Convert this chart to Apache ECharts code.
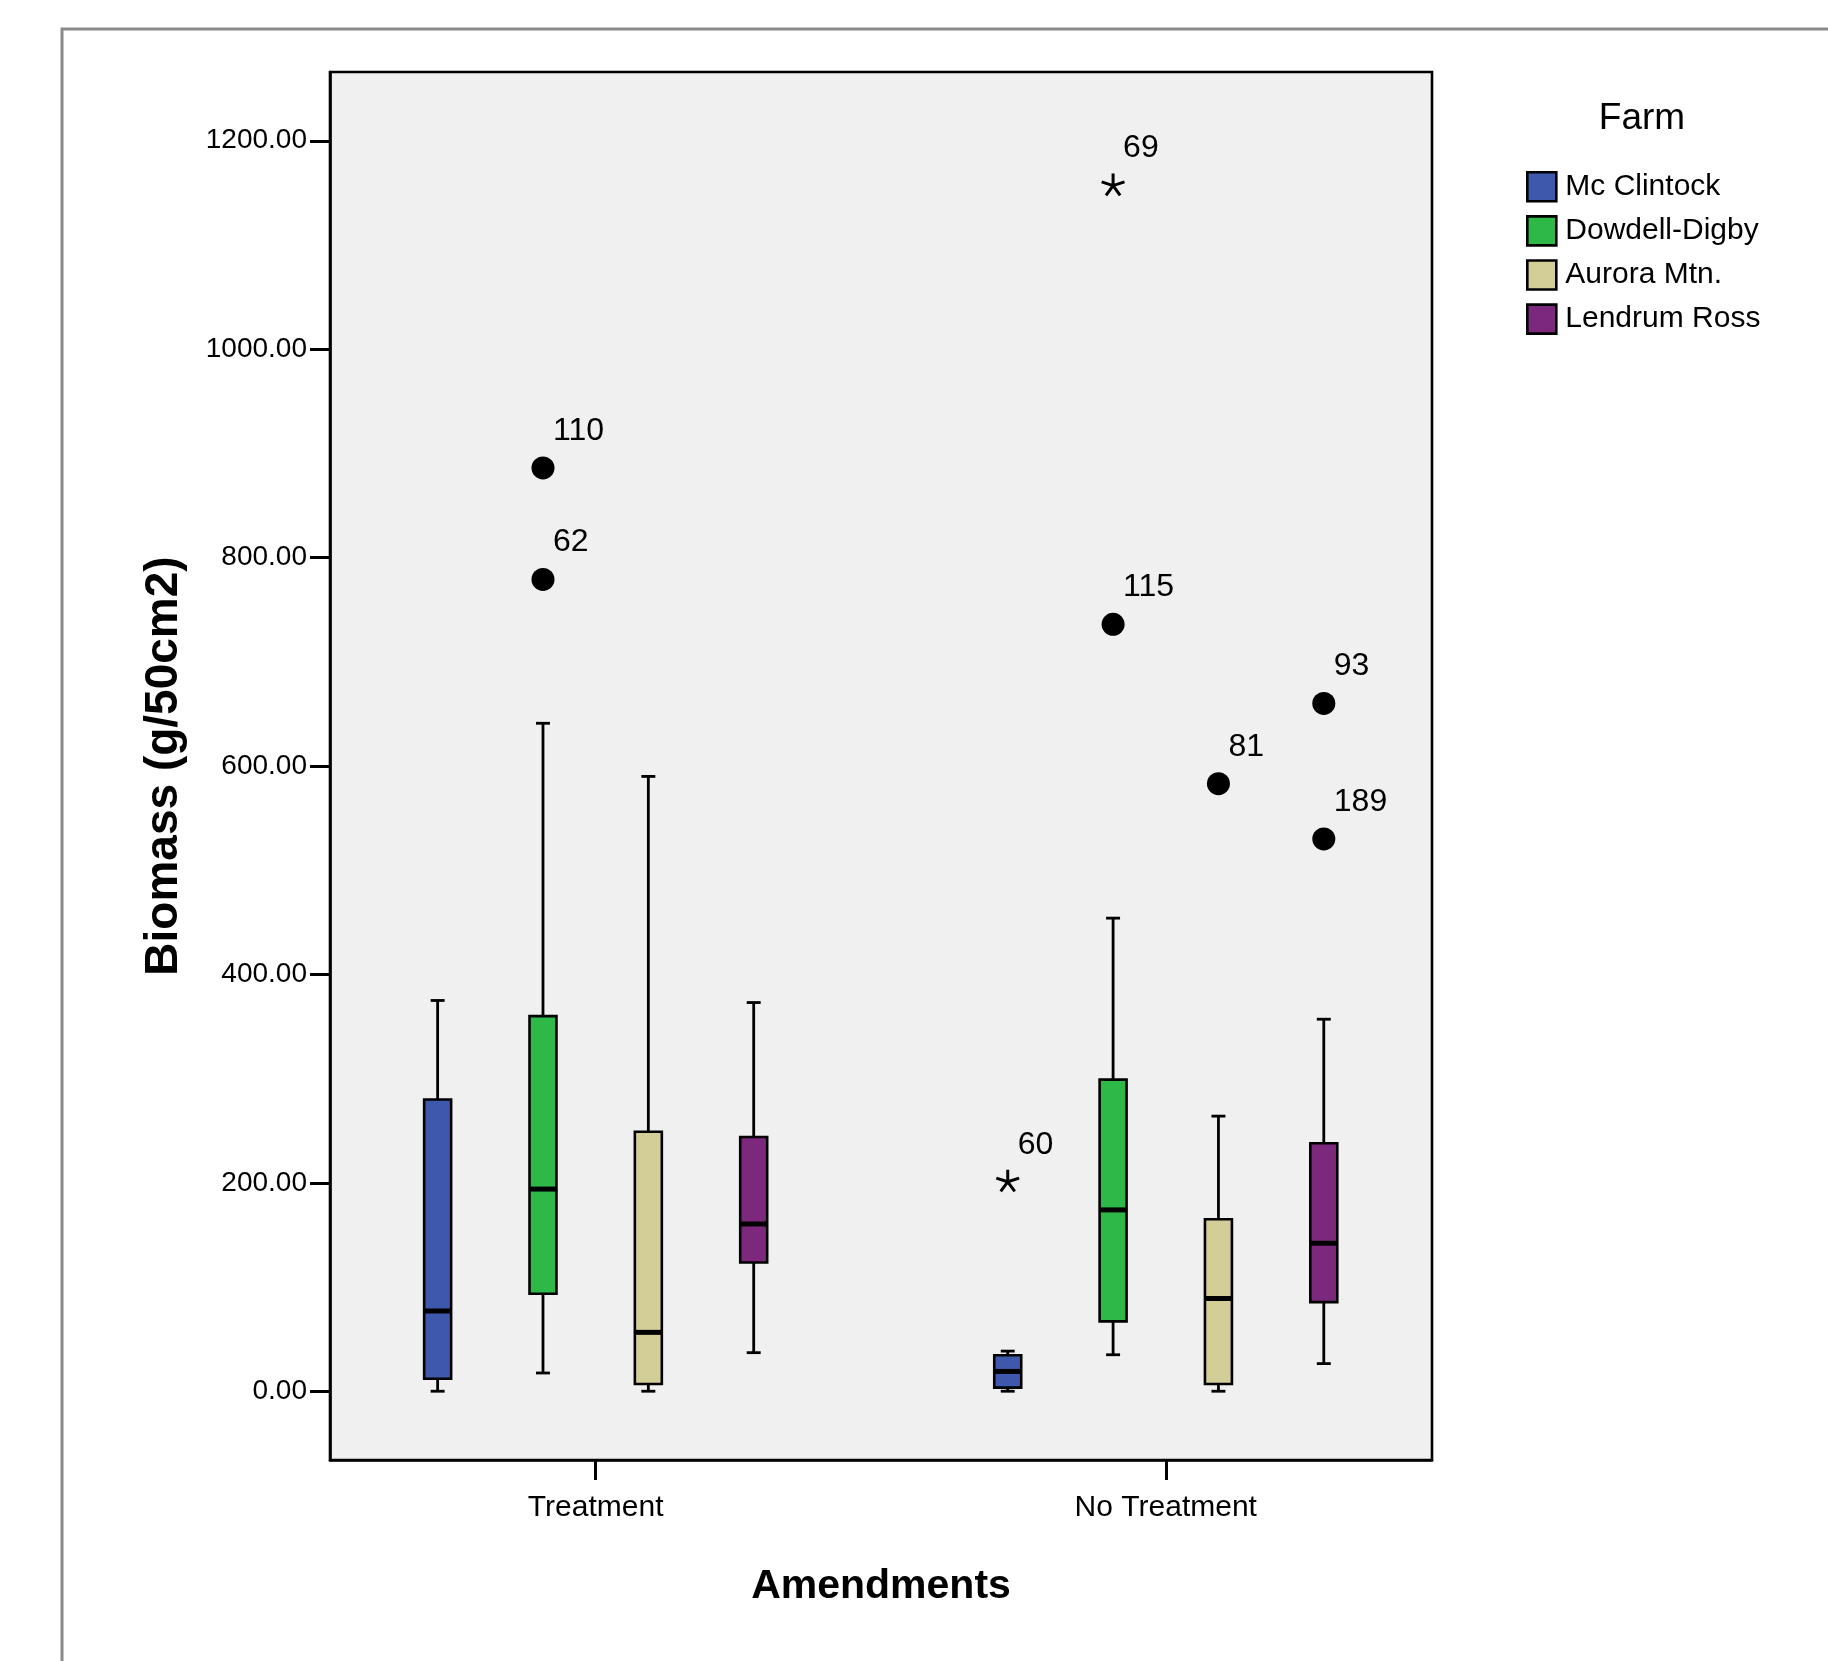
<!DOCTYPE html>
<html>
<head>
<meta charset="utf-8">
<script src="https://cdn.jsdelivr.net/npm/echarts@6/dist/echarts.min.js"></script>
<style>
html,body{margin:0;padding:0;background:#fff;}
#chart{width:1828px;height:1661px;}
</style>
</head>
<body>
<div id="chart"></div>
<script>
// ---------------- data ----------------
const categories = ['Treatment', 'No Treatment'];
const farms = ['Mc Clintock', 'Dowdell-Digby', 'Aurora Mtn.', 'Lendrum Ross'];
const farmColors = ['#3E58AC', '#2EB848', '#D3CE97', '#7C287D'];
// per farm: one [min, Q1, median, Q3, max] per category
const mcClintock   = [[0, 12, 77, 280, 375],    [0, 3.5, 19, 34.5, 38.5]];
const dowdellDigby = [[17.5, 93.5, 194, 360, 641], [35, 67, 174, 299, 454]];
const auroraMtn    = [[0, 7, 56.5, 249, 590],   [0, 7, 89, 165, 264]];
const lendrumRoss  = [[37, 123.5, 160.5, 244, 373], [26.5, 85.5, 142, 238, 357]];
const farmStats = [mcClintock, dowdellDigby, auroraMtn, lendrumRoss];
// outliers: [category index, farm index, value, case label, kind (0 circle, 1 extreme star)]
const outliers = [
  [0, 1, 886, '110', 0],
  [0, 1, 779, '62', 0],
  [1, 0, 201, '60', 1],
  [1, 1, 1157, '69', 1],
  [1, 1, 736, '115', 0],
  [1, 2, 583, '81', 0],
  [1, 3, 660, '93', 0],
  [1, 3, 530, '189', 0]
];
const yTicks = [0, 200, 400, 600, 800, 1000, 1200];

// ---------------- layout constants ----------------
const SPACING = 0.1848;   // distance between boxes, in category units
const BOX_W = 0.0473;     // box width, in category units
const CAP_W = 0.0245;     // whisker cap width
const SANS = "'Liberation Sans', Arial, sans-serif";

function boxRenderer(farmIdx) {
  return function (params, api) {
    const g = api.value(0);
    const unit = api.size([1, 0])[0];
    const base = api.coord([g, 0]);
    const cx = base[0] + (farmIdx - 1.5) * SPACING * unit;
    const hw = BOX_W * unit / 2;
    const cw = CAP_W * unit / 2;
    const y = [1, 2, 3, 4, 5].map(i => api.coord([g, api.value(i)])[1]);
    const ls = { stroke: '#000', lineWidth: 2.8 };
    return {
      type: 'group',
      children: [
        { type: 'line', shape: { x1: cx, y1: y[0], x2: cx, y2: y[1] }, style: ls },
        { type: 'line', shape: { x1: cx, y1: y[3], x2: cx, y2: y[4] }, style: ls },
        { type: 'line', shape: { x1: cx - cw, y1: y[0], x2: cx + cw, y2: y[0] }, style: ls },
        { type: 'line', shape: { x1: cx - cw, y1: y[4], x2: cx + cw, y2: y[4] }, style: ls },
        { type: 'rect', shape: { x: cx - hw, y: y[3], width: 2 * hw, height: y[1] - y[3] },
          style: { fill: farmColors[farmIdx], stroke: '#000', lineWidth: 2.6 } },
        { type: 'line', shape: { x1: cx - hw, y1: y[2], x2: cx + hw, y2: y[2] },
          style: { stroke: '#000', lineWidth: 5 } }
      ]
    };
  };
}

function outlierRenderer(params, api) {
  const g = api.value(0);
  const farmIdx = api.value(1);
  const unit = api.size([1, 0])[0];
  const pt = api.coord([g, api.value(2)]);
  const cx = pt[0] + (farmIdx - 1.5) * SPACING * unit;
  const cy = pt[1];
  const kind = api.value(4);
  const label = outliers[params.dataIndex][3];
  let marker;
  if (kind === 0) {
    marker = { type: 'circle', shape: { cx: cx, cy: cy, r: 11.5 }, style: { fill: '#000' } };
  } else {
    const L = 12;
    let d = '';
    [-90, -18, 54, 126, 198].forEach(a => {
      const r = a * Math.PI / 180;
      d += 'M' + cx + ' ' + cy + 'L' + (cx + L * Math.cos(r)) + ' ' + (cy + L * Math.sin(r));
    });
    marker = { type: 'path', shape: { pathData: d }, style: { stroke: '#000', lineWidth: 3, fill: null } };
  }
  return {
    type: 'group',
    children: [
      marker,
      { type: 'text', x: cx + 10, y: cy - 37,
        style: { text: label, font: '32px ' + SANS, fill: '#000', align: 'left', verticalAlign: 'middle' } }
    ]
  };
}

const series = farms.map((name, fi) => ({
  name: name,
  type: 'custom',
  renderItem: boxRenderer(fi),
  itemStyle: { color: farmColors[fi], borderColor: '#000', borderWidth: 2.5 },
  encode: { x: 0, y: [1, 2, 3, 4, 5] },
  data: farmStats[fi].map((s, gi) => [gi].concat(s)),
  z: 2
}));
series.push({
  name: 'Outliers',
  type: 'custom',
  renderItem: outlierRenderer,
  encode: { x: 0, y: 2 },
  data: outliers.map(o => [o[0], o[1], o[2], 0, o[4]]),
  z: 3
});

const chart = echarts.init(document.getElementById('chart'), null, { renderer: 'canvas' });
chart.setOption({
  animation: false,
  backgroundColor: '#fff',
  grid: {
    left: 330, top: 72, width: 1102, height: 1388,
    show: true, backgroundColor: '#F0F0F0', borderColor: '#000', borderWidth: 2.6
  },
  legend: {
    data: farms,
    orient: 'vertical',
    left: 1521, top: 166,
    icon: 'rect',
    itemWidth: 29, itemHeight: 29, itemGap: 12.5,
    itemStyle: { borderColor: '#000', borderWidth: 2.6 },
    textStyle: { fontFamily: SANS, fontSize: 30, color: '#000', padding: [0, 0, 0, 4] },
    selectedMode: false
  },
  xAxis: {
    type: 'value', min: -0.466, max: 1.467,
    name: 'Amendments', nameLocation: 'middle', nameGap: 106,
    nameTextStyle: { fontFamily: SANS, fontWeight: 'bold', fontSize: 41, color: '#000' },
    axisLine: { show: true, onZero: false, lineStyle: { color: '#000', width: 2.6 } },
    axisTick: { show: true, customValues: [0, 1], length: 20, lineStyle: { color: '#000', width: 3 } },
    axisLabel: { customValues: [0, 1], formatter: v => categories[Math.round(v)], margin: 33,
      fontFamily: SANS, fontSize: 30, color: '#000' },
    splitLine: { show: false }
  },
  yAxis: {
    type: 'value', min: -66, max: 1266,
    name: 'Biomass (g/50cm2)', nameLocation: 'middle', nameGap: 143,
    nameTextStyle: { fontFamily: SANS, fontWeight: 'bold', fontSize: 46, color: '#000' },
    axisLine: { show: true, onZero: false, lineStyle: { color: '#000', width: 2.6 } },
    axisTick: { show: true, customValues: yTicks, length: 20, lineStyle: { color: '#000', width: 3 } },
    axisLabel: { customValues: yTicks, formatter: v => v.toFixed(2), margin: 23,
      fontFamily: SANS, fontSize: 28, color: '#000' },
    splitLine: { show: false }
  },
  graphic: [
    { type: 'polyline', shape: { points: [[62, 1661], [62, 29], [1828, 29]] },
      style: { stroke: '#8a8a8a', lineWidth: 3, fill: null }, silent: true },
    { type: 'text', x: 1642, y: 119,
      style: { text: 'Farm', font: '37px ' + SANS, fill: '#000', align: 'center', verticalAlign: 'middle' } }
  ],
  series: series
});
</script>
</body>
</html>
